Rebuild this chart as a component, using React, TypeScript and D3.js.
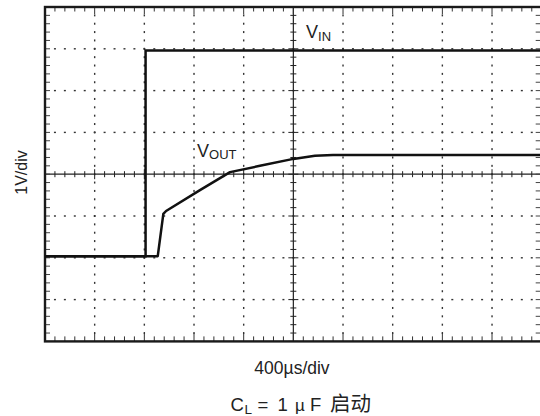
import React from "react";
import * as d3 from "d3";

// time in µs, voltage in V (relative to screen center)
const vinTime = [0, 810, 810, 4000];
const vinVolt = [-1.96, -1.96, 2.96, 2.96];

const voutTime = [0, 908, 953, 975, 1248, 1490, 1731, 2000, 2174, 2319, 4000];
const voutVolt = [-1.96, -1.96, -0.95, -0.88, -0.38, 0.05, 0.2, 0.366, 0.44, 0.46, 0.46];

const xDivs = d3.range(0, 4001, 400);
const yDivs = d3.range(-4, 4.001, 1);
const xMinor = d3.range(0, 4001, 80);
const yMinor = d3.range(-4, 4.0001, 0.2).map((v) => Math.round(v * 10) / 10);

const yLabel = "1V/div";
const xLabel = "400µs/div";

const W = 540;
const H = 416;
const L = 45;
const R = 541.7;
const T = 7;
const B = 341.4;

export default function App() {
  const x = d3.scaleLinear().domain([0, 4000]).range([L, R]);
  const y = d3.scaleLinear().domain([-4, 4]).range([B, T]);
  const line = d3
    .line<[number, number]>()
    .x((d) => x(d[0]))
    .y((d) => y(d[1]));
  const vin = vinTime.map((t, i) => [t, vinVolt[i]] as [number, number]);
  const vout = voutTime.map((t, i) => [t, voutVolt[i]] as [number, number]);
  const cx = x(2000);
  const cy = y(0);
  const isMajorX = (t: number) => t % 400 === 0;
  const isMajorY = (v: number) => Math.abs(v - Math.round(v)) < 1e-6;
  const dots: React.ReactElement[] = [];
  yDivs
    .filter((v) => v !== 0 && v > -4 && v < 4)
    .forEach((v) =>
      xMinor.forEach((t) => {
        if (t === 0 || t === 4000) return;
        dots.push(
          <rect key={`h${v}-${t}`} x={x(t) - 1} y={y(v) - 0.7} width={2} height={1.4} fill="#333" />
        );
      })
    );
  xDivs
    .filter((t) => t !== 2000 && t > 0 && t < 4000)
    .forEach((t) =>
      yMinor.forEach((v) => {
        if (v === -4 || v === 4) return;
        dots.push(
          <rect key={`v${t}-${v}`} x={x(t) - 0.7} y={y(v) - 1} width={1.4} height={2} fill="#333" />
        );
      })
    );
  const font = "'Liberation Sans', Arial, sans-serif";
  const cjk = "'Noto Sans CJK SC', sans-serif";
  return (
    <svg
      width={W}
      height={H}
      style={{ position: "absolute", left: 0, top: 0, background: "#fff" }}
      fontFamily={font}
    >
      <rect x={0} y={0} width={W} height={H} fill="#fff" />
      {dots}
      {/* center axes */}
      <line x1={L} x2={R} y1={cy} y2={cy} stroke="#222" strokeWidth={1.2} />
      <line x1={cx} x2={cx} y1={T} y2={B} stroke="#222" strokeWidth={1.2} />
      {xMinor.map((t) => {
        const len = isMajorX(t) ? 5 : 3;
        return <line key={`cx${t}`} x1={x(t)} x2={x(t)} y1={cy - len} y2={cy + len} stroke="#222" strokeWidth={1} />;
      })}
      {yMinor.map((v) => {
        const len = isMajorY(v) ? 5 : 3;
        return <line key={`cy${v}`} x1={cx - len} x2={cx + len} y1={y(v)} y2={y(v)} stroke="#222" strokeWidth={1} />;
      })}
      {/* frame ticks */}
      {xMinor.map((t) => (
        <g key={`ft${t}`}>
          <line x1={x(t)} x2={x(t)} y1={T} y2={T + (isMajorX(t) ? 7 : 4.5)} stroke="#333" strokeWidth={1} />
          <line x1={x(t)} x2={x(t)} y1={B} y2={B - (isMajorX(t) ? 8 : 5)} stroke="#333" strokeWidth={1} />
        </g>
      ))}
      {yMinor.map((v) => (
        <g key={`fl${v}`}>
          <line x1={L} x2={L + 5} y1={y(v)} y2={y(v)} stroke="#444" strokeWidth={1} />
          <line x1={R} x2={R - 6} y1={y(v)} y2={y(v)} stroke="#444" strokeWidth={1} />
        </g>
      ))}
      {/* frame */}
      <rect x={L} y={T} width={R - L} height={B - T} fill="none" stroke="#1a1a1a" strokeWidth={2.4} />
      {/* traces */}
      <path d={line(vin) || ""} fill="none" stroke="#111" strokeWidth={2.5} strokeLinejoin="miter" />
      <path d={line(vout) || ""} fill="none" stroke="#111" strokeWidth={2.5} strokeLinejoin="round" />
      {/* trace labels */}
      <text x={306} y={37.5} fontSize={18} fill="#222">
        V<tspan fontSize={13} dy={3.5}>IN</tspan>
      </text>
      <text x={197} y={156.5} fontSize={18} fill="#222">
        V<tspan fontSize={13} dy={2.5}>OUT</tspan>
      </text>
      {/* axis labels */}
      <text
        transform={`translate(26.5,172.5) rotate(-90)`}
        textAnchor="middle"
        fontSize={16}
        fill="#222"
      >
        {yLabel}
      </text>
      <text x={292} y={373.5} textAnchor="middle" fontSize={17.5} fill="#222">
        {xLabel}
      </text>
      {/* caption */}
      <g fill="#222">
        <text x={230.5} y={410.5} fontSize={18.5}>C</text>
        <text x={244.5} y={414} fontSize={13.5}>L</text>
        <text x={257.5} y={410.5} fontSize={18.5}>=</text>
        <text x={277.5} y={410.5} fontSize={18.5}>1</text>
        <text x={295} y={410.5} fontSize={17}>µ</text>
        <text x={310} y={410.5} fontSize={18.5}>F</text>
        <text x={330} y={411} fontSize={20.5} fontFamily={cjk}>启动</text>
      </g>
    </svg>
  );
}
